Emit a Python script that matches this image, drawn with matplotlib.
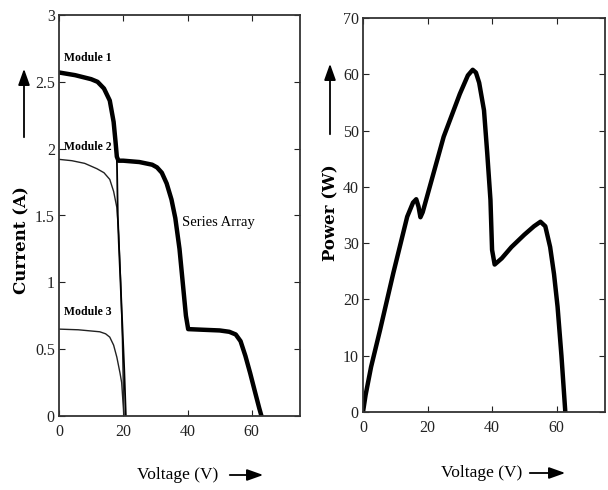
import matplotlib
matplotlib.use("Agg")
import matplotlib.pyplot as plt
from matplotlib.patches import FancyArrowPatch

# I-V curves (voltage in V, current in A)
series_v = [0, 5, 10, 12, 14, 15.8, 17, 17.6, 18.0, 18.5, 20, 25, 29, 30.5, 32, 33.5,
            35, 36.2, 37.5, 38.5, 39.5, 40.2, 45, 50, 53, 55, 56.5, 58, 59.5, 61, 62.3, 63]
series_i = [2.57, 2.55, 2.52, 2.50, 2.45, 2.36, 2.20, 2.05, 1.94, 1.91, 1.91, 1.90, 1.88, 1.86, 1.82, 1.74,
            1.62, 1.48, 1.25, 1.00, 0.75, 0.65, 0.645, 0.64, 0.63, 0.61, 0.56, 0.45, 0.32, 0.18, 0.06, 0.0]

mod1_v = [0, 5, 10, 12, 14, 15.8, 17, 17.6, 18.0, 18.3, 18.6, 19.5, 20.3, 20.8]
mod1_i = [2.57, 2.55, 2.52, 2.50, 2.45, 2.36, 2.20, 2.05, 1.94, 1.50, 1.30, 0.80, 0.35, 0.0]

mod2_v = [0, 4, 8, 11.8, 14, 15.8, 17, 18, 18.6, 19.2, 19.7, 20.2]
mod2_i = [1.92, 1.91, 1.89, 1.85, 1.82, 1.77, 1.68, 1.56, 1.35, 1.00, 0.60, 0.0]

mod3_v = [0, 6, 12.7, 14.5, 15.8, 17, 18, 19, 19.5, 20.2]
mod3_i = [0.65, 0.645, 0.63, 0.615, 0.59, 0.53, 0.44, 0.32, 0.25, 0.0]

# P-V curve of the series array (voltage in V, power in W)
power_v = [0, 0.8, 2.5, 5.3, 9.4, 13.7, 15.5, 16.5, 17.2, 17.8, 18.5, 25, 30, 32.5, 34, 35, 36,
           37.5, 38.5, 39.5, 40, 40.8, 43, 46, 50, 53, 55, 56.5, 58, 59.2, 60.3, 61.5, 62.7]
power_w = [0, 3, 8, 14.6, 24.7, 34.7, 37.2, 37.8, 36.5, 34.6, 35.5, 48.9, 56.5, 59.8, 60.8, 60.3, 58.5,
           53.6, 46, 37.7, 28.8, 26.2, 27.3, 29.3, 31.5, 33.0, 33.8, 33.0, 29.3, 24.5, 18.7, 10, 0]

volt_ticks = [0, 20, 40, 60]
cur_ticks = [0, 0.5, 1, 1.5, 2, 2.5, 3]
cur_ticklabels = ["0", "0.5", "1", "1.5", "2", "2.5", "3"]
pow_ticks = [0, 10, 20, 30, 40, 50, 60, 70]

plt.rcParams["font.family"] = ["Liberation Serif", "DejaVu Serif"]

W, H = 608, 490
fig = plt.figure(figsize=(W / 100, H / 100), dpi=100)

ax1 = fig.add_axes([59 / W, 1 - 416 / H, (300 - 59) / W, (416 - 15) / H])
ax2 = fig.add_axes([363 / W, 1 - 412 / H, (605 - 363) / W, (412 - 18) / H])


def style(ax):
    for s in ax.spines.values():
        s.set_linewidth(1.3)
        s.set_color("#333333")
    ax.tick_params(direction="in", top=True, right=True, length=4, width=0.8,
                   labelsize=11.5, colors="#222222")
    ax.tick_params(axis="y", pad=3)
    ax.tick_params(axis="x", pad=6)
    ax.set_xticks(volt_ticks)
    ax.set_xlim(0, 75)


style(ax1)
ax1.plot(mod2_v, mod2_i, color="#222222", lw=1.0)
ax1.plot(mod3_v, mod3_i, color="#222222", lw=1.0)
ax1.plot(mod1_v, mod1_i, color="black", lw=1.3)
ax1.plot(series_v, series_i, color="black", lw=3.2, solid_joinstyle="round")
ax1.set_ylim(0, 3)
ax1.set_yticks(cur_ticks)
ax1.set_yticklabels(cur_ticklabels)

ax1.text(1.5, 2.68, "Module 1", fontsize=8.5, fontweight="bold", va="center")
ax1.text(1.5, 2.01, "Module 2", fontsize=8.5, fontweight="bold", va="center")
ax1.text(1.5, 0.78, "Module 3", fontsize=8.5, fontweight="bold", va="center")
ax1.text(38.4, 1.45, "Series Array", fontsize=10.5, va="center")

style(ax2)
ax2.plot(power_v, power_w, color="black", lw=3.2, solid_joinstyle="round")
ax2.set_ylim(0, 70)
ax2.set_yticks(pow_ticks)

# axis titles with arrows, placed in figure pixels
fig.text(22 / W, 1 - 240 / H, "Current (A)", rotation=90, ha="center", va="center",
         fontsize=12, fontweight="bold", family=["DejaVu Serif"])
fig.text(331 / W, 1 - 213 / H, "Power (W)", rotation=90, ha="center", va="center",
         fontsize=12, fontweight="bold", family=["DejaVu Serif"])
fig.text(178 / W, 1 - 475 / H, "Voltage (V)", ha="center", va="center", fontsize=12.5)
fig.text(482 / W, 1 - 473 / H, "Voltage (V)", ha="center", va="center", fontsize=12.5)

arrow = dict(arrowstyle="-|>,head_length=0.7,head_width=0.25", lw=1.3, color="black",
             transform=fig.transFigure, mutation_scale=14)
fig.add_artist(FancyArrowPatch((24 / W, 1 - 140 / H), (24 / W, 1 - 66 / H), **arrow))
fig.add_artist(FancyArrowPatch((330 / W, 1 - 137 / H), (330 / W, 1 - 61 / H), **arrow))
fig.add_artist(FancyArrowPatch((227 / W, 1 - 475 / H), (266 / W, 1 - 475 / H), **arrow))
fig.add_artist(FancyArrowPatch((527 / W, 1 - 473 / H), (568 / W, 1 - 473 / H), **arrow))

fig.savefig("out.png", dpi=100)
